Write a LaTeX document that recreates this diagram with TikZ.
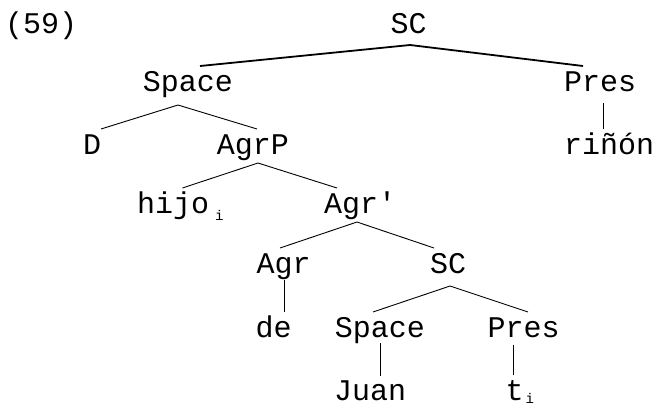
\documentclass[tikz,border=0pt]{standalone}
\usepackage{fontspec}
\newfontfamily\treefont{Liberation Mono}
\usepackage{tikz}
\usetikzlibrary{positioning,calc}

\begin{document}
\begin{tikzpicture}[
  x=1pt, y=1pt,
  lbl/.style={inner sep=0pt, anchor=base, font=\treefont\fontsize{30}{36}\selectfont},
  branch/.style={line width=0.9pt},
  topbranch/.style={line width=1.8pt}
]
\useasboundingbox (0,0) rectangle (660,-405);

% labels, row by row
\node[lbl, anchor=base west] (ex) at (5,-33) {(59)};
\node[lbl] (sc) at (408.5,-33) {SC};

\node[lbl] (spc) at (188,-91) {Space};
\node[lbl] (pres) at (600,-91) {Pres};

\node[lbl] (d) at (92,-154) {D};
\node[lbl] (agrp) at (253,-154) {AgrP};
\node[lbl] (rinon) at (609,-154) {riñón};

\node[lbl, anchor=base west] (hijo) at (137,-213) {hijo\hspace{6pt}\raisebox{-7pt}{\fontsize{14}{14}\selectfont i}};
\node[lbl] (agrbar) at (360,-213) {Agr'};

\node[lbl] (agr) at (283.5,-273) {Agr};
\node[lbl] (scb) at (448,-273) {SC};

\node[lbl] (de) at (273.5,-337) {de};
\node[lbl] (spcb) at (380,-337) {Space};
\node[lbl] (presb) at (523.5,-337) {Pres};

\node[lbl] (juan) at (370,-400) {Juan};
\node[lbl, anchor=base west] (ti) at (505.5,-400) {t\hspace{2pt}\raisebox{-3pt}{\fontsize{14}{14}\selectfont i}};

% branches
\draw[topbranch] ([xshift=1.5pt,yshift=-12pt]sc.base) -- ([xshift=12pt,yshift=25pt]spc.base);
\draw[topbranch] ([xshift=1.5pt,yshift=-12pt]sc.base) -- ([xshift=-17pt,yshift=25pt]pres.base);

\draw[branch] ([xshift=-10pt,yshift=-14pt]spc.base) -- ([xshift=9pt,yshift=25pt]d.base);
\draw[branch] ([xshift=-10pt,yshift=-14pt]spc.base) -- ([xshift=4pt,yshift=25pt]agrp.base);
\draw[branch] ([xshift=3pt,yshift=-12pt]pres.base) -- ([xshift=3pt,yshift=25pt]pres.base |- rinon.base);

\draw[branch] ([xshift=5pt,yshift=-9pt]agrp.base) -- ([xshift=2pt,yshift=25pt]hijo.base);
\draw[branch] ([xshift=5pt,yshift=-9pt]agrp.base) -- ([xshift=-23pt,yshift=25pt]agrbar.base);

\draw[branch] ([xshift=-3pt,yshift=-9pt]agrbar.base) -- ([xshift=-3.5pt,yshift=25pt]agr.base);
\draw[branch] ([xshift=-3pt,yshift=-9pt]agrbar.base) -- ([xshift=-14pt,yshift=25pt]scb.base);

\draw[branch] ([xshift=0.5pt,yshift=-7pt]agr.base) -- ([xshift=0.5pt,yshift=25pt]agr.base |- de.base);
\draw[branch] ([xshift=2pt,yshift=-13pt]scb.base) -- ([xshift=-7pt,yshift=25pt]spcb.base);
\draw[branch] ([xshift=2pt,yshift=-13pt]scb.base) -- ([xshift=4.5pt,yshift=25pt]presb.base);

\draw[branch] ([yshift=-6pt]spcb.base) -- ([yshift=24pt]spcb.base |- juan.base);
\draw[branch] ([xshift=-10.5pt,yshift=-8pt]presb.base) -- ([xshift=-10.5pt,yshift=25pt]presb.base |- ti.base);
\end{tikzpicture}
\end{document}
